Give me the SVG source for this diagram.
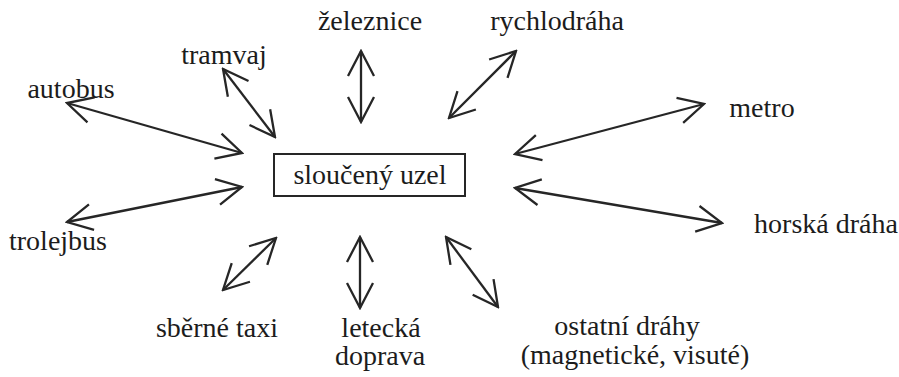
<svg xmlns="http://www.w3.org/2000/svg" width="899" height="377" viewBox="0 0 899 377">
<style>
text{font-family:'Liberation Serif','Times New Roman','DejaVu Serif',serif;font-size:28px;fill:#1c1c1c;text-anchor:middle}
.c{stroke:#262626;stroke-width:2.3;fill:none;marker-start:url(#ah);marker-end:url(#ah)}
.box{fill:#fff;stroke:#262626;stroke-width:2}
</style>
<defs>
<marker id="ah" markerUnits="userSpaceOnUse" viewBox="-30 -16 32 32" refX="0" refY="0" markerWidth="32" markerHeight="32" orient="auto-start-reverse">
<path d="M-25,-13 L0,0 L-25,13" fill="none" stroke="#262626" stroke-width="2.3" stroke-linejoin="miter"/>
</marker>
</defs>
<rect width="899" height="377" fill="#fff"/>
<g id="connectors">
<line class="c" x1="242" y1="153" x2="67" y2="103"/>
<line class="c" x1="275" y1="137" x2="223" y2="69"/>
<line class="c" x1="361" y1="122" x2="361" y2="51"/>
<line class="c" x1="449" y1="118" x2="516" y2="51"/>
<line class="c" x1="515" y1="154" x2="704" y2="104"/>
<line class="c" x1="515" y1="188" x2="722" y2="223"/>
<line class="c" x1="242" y1="187" x2="67" y2="222"/>
<line class="c" x1="276" y1="238" x2="223" y2="290"/>
<line class="c" x1="360" y1="237" x2="360" y2="308"/>
<line class="c" x1="446" y1="237" x2="498" y2="307"/>
</g>
<g id="center"><rect class="box" x="274" y="154" width="191" height="42"/><text x="370" y="184" font-family="Liberation Serif, serif">sloučený uzel</text></g>
<g id="zeleznice"><text x="370" y="30">železnice</text></g>
<g id="tramvaj"><text x="224" y="64">tramvaj</text></g>
<g id="autobus"><text x="71" y="98">autobus</text></g>
<g id="rychlodraha"><text x="557" y="30">rychlodráha</text></g>
<g id="metro"><text x="762" y="117">metro</text></g>
<g id="horska"><text x="826" y="233">horská dráha</text></g>
<g id="trolejbus"><text x="58" y="250">trolejbus</text></g>
<g id="taxi"><text x="217" y="337">sběrné taxi</text></g>
<g id="letecka"><text x="381" y="337">letecká</text><text x="380" y="365">doprava</text></g>
<g id="ostatni"><text x="627" y="335">ostatní dráhy</text><text x="635" y="364">(magnetické, visuté)</text></g>
</svg>
